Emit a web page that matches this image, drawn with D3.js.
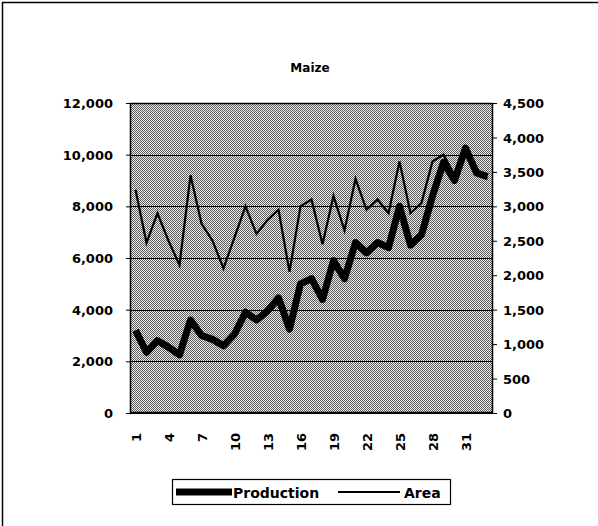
<!DOCTYPE html>
<html>
<head>
<meta charset="utf-8">
<script src="https://cdn.jsdelivr.net/npm/d3@7"></script>
<style>
  html, body { margin: 0; padding: 0; background: #fff; }
  svg { display: block; }
  text { font-family: "DejaVu Sans", sans-serif; font-weight: bold; fill: #000; }
</style>
</head>
<body>
<svg id="chart" width="598" height="526"></svg>
<script>
// ---- data ----
const categories = d3.range(1, 34);
const production = [3200, 2350, 2800, 2550, 2250, 3600, 3000, 2850, 2600, 3050,
                    3900, 3600, 3950, 4450, 3250, 5000, 5200, 4400, 5900, 5200,
                    6600, 6200, 6600, 6400, 8000, 6500, 6900, 8400, 9700, 9000,
                    10250, 9300, 9150];
const area = [3240, 2470, 2900, 2500, 2150, 3450, 2750, 2500, 2100, 2550,
              3000, 2600, 2800, 2950, 2050, 3000, 3100, 2450, 3150, 2650,
              3400, 2950, 3100, 2900, 3650, 2900, 3050, 3650, 3750, 3450,
              3850, 3450, 3400];
const leftTicks = [0, 2000, 4000, 6000, 8000, 10000, 12000];
const rightTicks = [0, 500, 1000, 1500, 2000, 2500, 3000, 3500, 4000, 4500];
const xTickLabels = [1, 4, 7, 10, 13, 16, 19, 22, 25, 28, 31];
const seriesNames = ["Production", "Area"];
const titleText = "Maize";

// ---- layout ----
const plot = { left: 130, right: 493, top: 103, bottom: 413 };
const svg = d3.select("#chart");

// outer frame (top and left edges visible in the scan)
svg.append("line").attr("x1", 2).attr("x2", 598).attr("y1", 2.5).attr("y2", 2.5)
  .attr("stroke", "#000").attr("stroke-width", 1.5);
svg.append("line").attr("x1", 2.5).attr("x2", 2.5).attr("y1", 2).attr("y2", 526)
  .attr("stroke", "#000").attr("stroke-width", 1.5);

// pattern for halftone gray
const defs = svg.append("defs");
const pat = defs.append("pattern").attr("id", "dither").attr("patternUnits", "userSpaceOnUse")
  .attr("width", 2).attr("height", 2);
pat.append("rect").attr("width", 2).attr("height", 2).attr("fill", "#ececec");
pat.append("rect").attr("x", 0).attr("y", 0).attr("width", 1).attr("height", 1).attr("fill", "#5c5c5c");
pat.append("rect").attr("x", 1).attr("y", 1).attr("width", 1).attr("height", 1).attr("fill", "#5c5c5c");

const x = d3.scaleBand().domain(categories).range([plot.left, plot.right]).padding(0);
const yL = d3.scaleLinear().domain([0, 12000]).range([plot.bottom, plot.top]);
const yR = d3.scaleLinear().domain([0, 4500]).range([plot.bottom, plot.top]);
const cx = d => x(d) + x.bandwidth() / 2;

// plot background
svg.append("rect").attr("x", plot.left).attr("y", plot.top)
  .attr("width", plot.right - plot.left).attr("height", plot.bottom - plot.top)
  .attr("fill", "url(#dither)");

// gridlines
svg.append("g").selectAll("line").data(leftTicks).join("line")
  .attr("x1", plot.left).attr("x2", plot.right)
  .attr("y1", d => Math.round(yL(d)) + 0.5).attr("y2", d => Math.round(yL(d)) + 0.5)
  .attr("stroke", "#000").attr("stroke-width", 1.2);

// plot border
svg.append("rect").attr("x", plot.left + 0.5).attr("y", plot.top + 0.5)
  .attr("width", plot.right - plot.left - 1).attr("height", plot.bottom - plot.top - 1)
  .attr("fill", "none").attr("stroke", "#000").attr("stroke-width", 1.5);

// left axis
const fmt = d3.format(",");
const leftAxis = d3.axisLeft(yL).tickValues(leftTicks).tickFormat(fmt).tickSize(4).tickPadding(13);
const gL = svg.append("g").attr("transform", `translate(${plot.left},0)`).call(leftAxis);
gL.select(".domain").remove();
gL.selectAll("text").style("font-size", "13px").style("font-family", "DejaVu Sans").style("font-weight", "bold").attr("dy", "0.35em");

// right axis
const rightAxis = d3.axisRight(yR).tickValues(rightTicks).tickFormat(fmt).tickSize(4).tickPadding(6);
const gR = svg.append("g").attr("transform", `translate(${plot.right},0)`).call(rightAxis);
gR.select(".domain").remove();
gR.selectAll("text").style("font-size", "13px").style("font-family", "DejaVu Sans").style("font-weight", "bold").attr("dy", "0.35em");

// bottom axis labels (rotated)
const gB = svg.append("g");
gB.selectAll("text").data(xTickLabels).join("text")
  .attr("transform", d => `translate(${cx(d) + 5},${plot.bottom + 20}) rotate(-90)`)
  .attr("text-anchor", "end")
  .style("font-size", "13px")
  .text(d => d);

// lines
const lineP = d3.line().x((d, i) => cx(categories[i])).y(d => yL(d));
const lineA = d3.line().x((d, i) => cx(categories[i])).y(d => yR(d));
svg.append("path").datum(area).attr("d", lineA)
  .attr("fill", "none").attr("stroke", "#000").attr("stroke-width", 2.2).attr("stroke-linejoin", "miter");
svg.append("path").datum(production).attr("d", lineP)
  .attr("fill", "none").attr("stroke", "#000").attr("stroke-width", 7).attr("stroke-linejoin", "round");

// title
svg.append("text").attr("x", 310).attr("y", 72).attr("text-anchor", "middle")
  .style("font-size", "12px").text(titleText);

// legend
const lg = svg.append("g");
lg.append("rect").attr("x", 172.5).attr("y", 479.5).attr("width", 278).attr("height", 25)
  .attr("fill", "#fff").attr("stroke", "#000").attr("stroke-width", 1.2);
lg.append("line").attr("x1", 176).attr("x2", 232).attr("y1", 492).attr("y2", 492)
  .attr("stroke", "#000").attr("stroke-width", 7);
lg.append("text").attr("x", 233).attr("y", 497.5).style("font-size", "14px").text(seriesNames[0]);
lg.append("line").attr("x1", 338).attr("x2", 400).attr("y1", 492).attr("y2", 492)
  .attr("stroke", "#000").attr("stroke-width", 2);
lg.append("text").attr("x", 404).attr("y", 497.5).style("font-size", "14px").text(seriesNames[1]);
</script>
</body>
</html>
